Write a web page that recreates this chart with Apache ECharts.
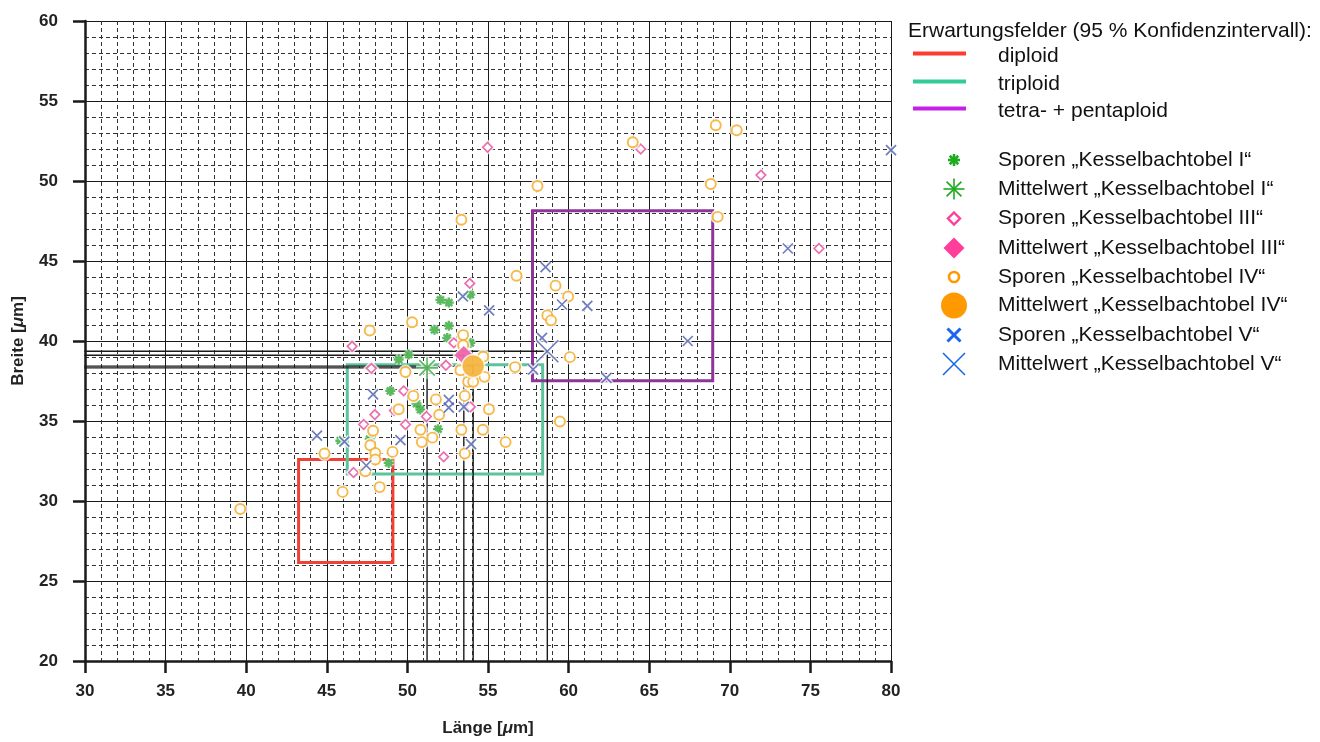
<!DOCTYPE html>
<html><head><meta charset="utf-8">
<script src="https://cdn.jsdelivr.net/npm/echarts@6/dist/echarts.min.js"></script>
<style>html,body{margin:0;padding:0;background:#fff}#c{width:1320px;height:742px}</style>
</head><body><div id="c"></div>
<script>
// ---------- data ----------
const xTickLabels = ['30','35','40','45','50','55','60','65','70','75','80'];
const yTickLabels = ['20','25','30','35','40','45','50','55','60'];

const diploidX = [43.25, 49.1];
const diploidY = [26.15, 32.6];
const triploidX = [46.27, 58.39];
const triploidY = [31.68, 38.51];
const tetraX = [57.76, 68.94];
const tetraY = [37.52, 48.14];

const sporenI = [
  [52.05,42.57],[52.57,42.40],[51.68,40.70],[52.57,40.95],[52.47,40.19],[50.08,39.15],
  [49.46,38.84],[48.94,36.88],[50.56,36.09],[51.90,34.49],[47.66,33.87],[48.84,32.38],
  [53.91,39.88],[50.81,35.71],[45.84,33.77],[53.90,42.90]
];
const meanI = [51.22, 38.32];

const sporenIII = [
  [53.87,43.60],[52.88,39.88],[46.57,39.67],[47.76,38.29],[52.39,38.48],[49.77,36.88],
  [47.98,35.40],[47.29,34.78],[49.88,34.78],[51.18,35.28],[49.19,35.65],[53.91,35.88],
  [52.25,32.76],[46.66,31.78],[54.97,52.11],[64.47,52.00],[71.93,50.37],[75.53,45.78]
];
const meanIII = [53.50, 39.11];

const sporenIV = [
  [39.63,29.50],[63.98,52.42],[69.13,53.48],[70.43,53.17],[58.07,49.69],[68.82,49.81],
  [69.25,47.76],[53.35,47.58],[56.77,44.08],[59.19,43.46],[59.97,42.78],[58.68,41.60],
  [58.91,41.29],[60.08,38.99],[56.68,38.37],[50.29,41.17],[47.66,40.66],[53.46,40.37],
  [53.46,39.73],[54.70,39.02],[49.88,38.06],[53.29,38.17],[54.78,37.76],[53.77,37.45],
  [54.08,37.45],[50.37,36.57],[51.77,36.35],[53.56,36.57],[49.46,35.73],[55.06,35.73],
  [51.97,35.39],[59.46,34.97],[50.81,34.45],[51.55,33.96],[53.35,34.45],[54.68,34.45],
  [47.87,34.39],[50.89,33.68],[56.09,33.68],[47.70,33.48],[49.08,33.07],[48.01,33.00],
  [48.01,32.59],[53.56,32.97],[44.86,32.97],[47.39,31.86],[48.28,30.87],[45.98,30.57]
];
const meanIV = [54.08, 38.43];

const sporenV = [
  [80.00,51.93],[73.60,45.78],[58.57,44.62],[61.16,42.20],[59.59,42.28],[55.07,41.91],
  [53.44,42.79],[67.39,40.00],[62.35,37.70],[57.80,38.22],[58.35,40.19],[52.57,36.32],
  [52.57,35.84],[53.50,35.88],[53.95,33.56],[47.87,36.67],[44.39,34.08],[46.09,33.71],
  [49.57,33.81],[47.45,32.22]
];
const meanV = [58.68, 39.36];

const fieldNames = ['diploid', 'triploid', 'tetra- + pentaploid'];
const seriesNames = [
  'Sporen „Kesselbachtobel I“', 'Mittelwert „Kesselbachtobel I“',
  'Sporen „Kesselbachtobel III“', 'Mittelwert „Kesselbachtobel III“',
  'Sporen „Kesselbachtobel IV“', 'Mittelwert „Kesselbachtobel IV“',
  'Sporen „Kesselbachtobel V“', 'Mittelwert „Kesselbachtobel V“'
];
const legendTitle = 'Erwartungsfelder (95 % Konfidenzintervall):';

// ---------- styles ----------
const FONT = '"Liberation Sans", Arial, Helvetica, sans-serif';
const C = {
  red: '#ef4136', teal: '#5cc49c', purple: '#8e3598',
  green: '#36a93a', pink: '#e8489a', orange: '#f5a81c', blue: '#4b5dae',
  lRed: '#ff3b30', lTeal: '#33cc99', lPurple: '#c61fe6',
  lGreen: '#1faa1f', lPink: '#ff3d9a', lOrange: '#ff9900', lBlue: '#1a66ee'
};
const STAR = 'path://M5,0L5,10M0,5L10,5M1.46,1.46L8.54,8.54M1.46,8.54L8.54,1.46';
const XS = 'path://M0,0L10,10M0,10L10,0';

function boxData(xr, yr) {
  return [[xr[0], yr[0]], [xr[1], yr[0]], [xr[1], yr[1]], [xr[0], yr[1]], [xr[0], yr[0]]];
}
function lineSeries(data, color, width, z) {
  return {
    type: 'line', data: data, symbol: 'none', silent: true, animation: false, z: z,
    lineStyle: { color: color, width: width, cap: 'square', join: 'miter' }, clip: false
  };
}
function scat(name, data, symbol, size, fill, stroke, bw, z, haloFill) {
  const common = { type: 'scatter', data: data, symbol: symbol, symbolSize: size,
    silent: true, animation: false, clip: false, emphasis: { disabled: true } };
  return [
    Object.assign({}, common, { z: z, itemStyle: { color: haloFill, borderColor: '#ffffff', borderWidth: bw + 3 } }),
    Object.assign({}, common, { name: name, z: z + 0.5, itemStyle: { color: fill, borderColor: stroke, borderWidth: bw } })
  ];
}

const series = [];
series.push(lineSeries(boxData(diploidX, diploidY), C.red, 3, 3));
series.push(lineSeries(boxData(triploidX, triploidY), C.teal, 3, 3));
series.push(lineSeries(boxData(tetraX, tetraY), C.purple, 3, 3));
[meanI, meanIII, meanIV, meanV].forEach(m => {
  series.push(lineSeries([[30, m[1]], [m[0], m[1]]], '#1a1a1a', 1.4, 4));
  series.push(lineSeries([[m[0], m[1]], [m[0], 20]], '#1a1a1a', 1.4, 4));
});
const T = 'transparent';
series.push(...scat(seriesNames[0], sporenI, STAR, 10, T, C.green, 2.4, 10, T));
series.push(...scat(seriesNames[2], sporenIII, 'diamond', 9.5, '#fff', C.pink, 1.7, 11, '#fff'));
series.push(...scat(seriesNames[4], sporenIV, 'circle', 10, '#fff', C.orange, 1.9, 12, '#fff'));
series.push(...scat(seriesNames[6], sporenV, XS, 10, T, C.blue, 1.7, 13, T));
series.push(...scat(seriesNames[1], [meanI], STAR, 22, T, C.green, 1.6, 14, T));
series.push(...scat(seriesNames[3], [meanIII], 'diamond', 18, C.pink, C.pink, 0.5, 15, '#fff'));
series.push(...scat(seriesNames[5], [meanIV], 'circle', 21, C.orange, C.orange, 0.5, 16, '#fff'));
series.push(...scat(seriesNames[7], [meanV], XS, 22, T, C.blue, 1.6, 17, T));

// ---------- legend (graphic) ----------
const g = [];
function gLine(x1, y1, x2, y2, color, w) {
  return { type: 'line', shape: { x1, y1, x2, y2 }, style: { stroke: color, lineWidth: w }, silent: true, z: 100 };
}
function gStar(cx, cy, r, color, w) {
  const d = r * 0.7071;
  return [gLine(cx, cy - r, cx, cy + r, color, w), gLine(cx - r, cy, cx + r, cy, color, w),
          gLine(cx - d, cy - d, cx + d, cy + d, color, w), gLine(cx - d, cy + d, cx + d, cy - d, color, w)];
}
function gX(cx, cy, r, color, w) {
  return [gLine(cx - r, cy - r, cx + r, cy + r, color, w), gLine(cx - r, cy + r, cx + r, cy - r, color, w)];
}
function gText(x, y, text) {
  return { type: 'text', x: x, y: y, silent: true, z: 100,
    style: { text: text, font: '21px ' + FONT, fill: '#111', verticalAlign: 'middle', align: 'left' } };
}
g.push(gText(908, 31, legendTitle));
const fieldColors = [C.lRed, C.lTeal, C.lPurple];
const fieldY = [55, 83, 110];
fieldNames.forEach((n, i) => {
  g.push(gLine(913, fieldY[i] - 1.5, 966, fieldY[i] - 1.5, fieldColors[i], 4));
  g.push(gText(998, fieldY[i] + 1.5, n));
});
const rowY = [160, 189, 218.5, 248, 277, 305.5, 335, 364];
const mx = 954;
g.push(...gStar(mx, rowY[0], 6, C.lGreen, 2.6));
g.push(...gStar(mx, rowY[1], 10.5, C.lGreen, 1.6));
g.push({ type: 'polygon', z: 100, silent: true, shape: { points: [[mx, rowY[2] - 6], [mx + 6, rowY[2]], [mx, rowY[2] + 6], [mx - 6, rowY[2]]] },
  style: { fill: '#fff', stroke: C.lPink, lineWidth: 2.4 } });
g.push({ type: 'polygon', z: 100, silent: true, shape: { points: [[mx, rowY[3] - 10.5], [mx + 10.5, rowY[3]], [mx, rowY[3] + 10.5], [mx - 10.5, rowY[3]]] },
  style: { fill: C.lPink } });
g.push({ type: 'circle', z: 100, silent: true, shape: { cx: mx, cy: rowY[4], r: 5 }, style: { fill: '#fff', stroke: C.lOrange, lineWidth: 2.6 } });
g.push({ type: 'circle', z: 100, silent: true, shape: { cx: mx, cy: rowY[5], r: 13 }, style: { fill: C.lOrange } });
g.push(...gX(mx, rowY[6], 6.5, C.lBlue, 3));
g.push(...gX(mx, rowY[7], 11, C.lBlue, 1.6));
seriesNames.forEach((n, i) => g.push(gText(998, rowY[i], n)));

// ---------- chart ----------
const axisCommon = {
  type: 'value',
  axisLine: { show: true, onZero: false, lineStyle: { color: '#1a1a1a', width: 2.5 } },
  axisTick: { show: true, inside: false, length: 12, lineStyle: { color: '#1a1a1a', width: 2.5 } },
  splitLine: { show: true, lineStyle: { color: '#1a1a1a', width: 1 } },
  minorTick: { show: false, splitNumber: 5 },
  minorSplitLine: { show: true, lineStyle: { color: '#333', width: 1, type: [4, 3] } },
  nameLocation: 'middle',
  nameTextStyle: { rich: {
    a: { fontFamily: FONT, fontSize: 17, fontWeight: 'bold', color: '#222' },
    b: { fontFamily: FONT, fontSize: 17, fontWeight: 'bold', fontStyle: 'italic', color: '#222' }
  } }
};
const option = {
  animation: false,
  backgroundColor: '#fff',
  grid: { left: 85, right: 429, top: 21, bottom: 77, containLabel: false },
  xAxis: Object.assign({}, axisCommon, {
    min: 30, max: 80, interval: 5,
    name: '{a|Länge [}{b|μ}{a|m]}', nameGap: 59,
    axisLabel: { fontFamily: FONT, fontSize: 17, fontWeight: 'bold', color: '#222', margin: 22,
      formatter: v => xTickLabels.includes(String(v)) ? String(v) : '' }
  }),
  yAxis: Object.assign({}, axisCommon, {
    min: 20, max: 60, interval: 5,
    name: '{a|Breite [}{b|μ}{a|m]}', nameGap: 58,
    axisLabel: { fontFamily: FONT, fontSize: 17, fontWeight: 'bold', color: '#222', margin: 27,
      formatter: v => yTickLabels.includes(String(v)) ? String(v) : '' }
  }),
  series: series,
  graphic: g
};
const chart = echarts.init(document.getElementById('c'), null, { renderer: 'canvas' });
chart.setOption(option);
</script>
</body></html>
